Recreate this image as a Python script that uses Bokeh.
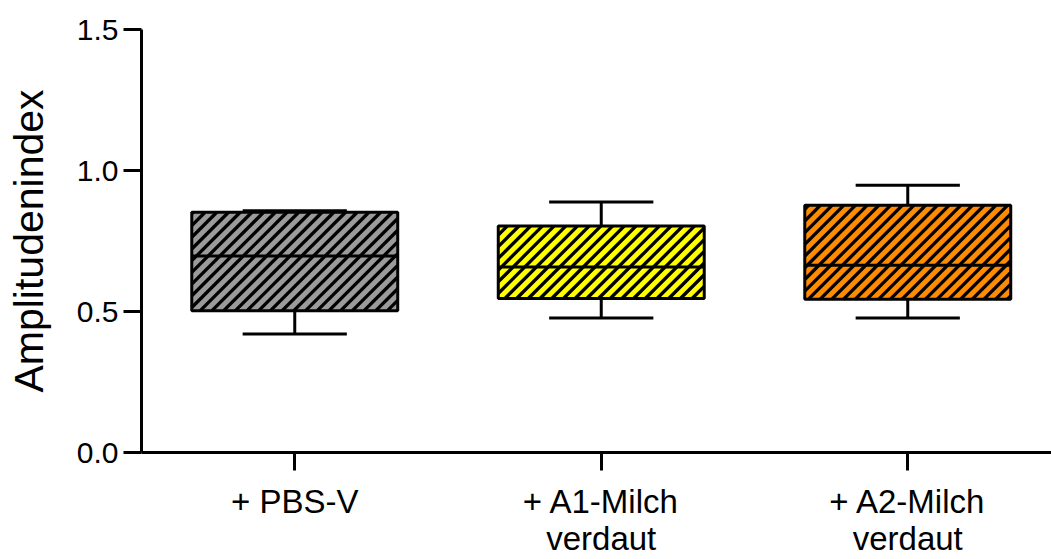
import numpy as np
from bokeh.plotting import figure
from bokeh.models import FixedTicker, Range1d
from bokeh.embed import file_html
from bokeh.resources import INLINE

# Box-plot summary per group
groups = ["+ PBS-V", "+ A1-Milch\nverdaut", "+ A2-Milch\nverdaut"]
positions = [1, 2, 3]
whisker_low = [0.42, 0.477, 0.477]
q1 = [0.503, 0.546, 0.543]
median = [0.697, 0.658, 0.664]
q3 = [0.852, 0.803, 0.877]
whisker_high = [0.857, 0.888, 0.948]
colors = ["#9b9b9b", "#ffff00", "#ff8c00"]

y_ticks = [0.0, 0.5, 1.0, 1.5]

FONT = "Liberation Sans"
BOX_HALF = 0.336
CAP_HALF = 0.17

X0, X1 = 0.5, 3.469
Y0, Y1 = 0.0, 1.5
BORDER_L, BORDER_R, BORDER_T, BORDER_B = 141, 0, 29, 107
W, H = 1051, 559
# pixels per data unit inside the plot frame
SX = (W - BORDER_L - BORDER_R) / (X1 - X0)
SY = (H - BORDER_T - BORDER_B) / (Y1 - Y0)

HATCH_STEP = 11.7  # px between 45-degree hatch lines (horizontal distance)


def hatch_segments(left, right, bottom, top):
    """Clip '/' lines (45 deg on screen) to a rectangle given in data units."""
    L, R, B, T = left * SX, right * SX, bottom * SY, top * SY
    c_start = np.ceil((B - R) / HATCH_STEP) * HATCH_STEP
    x0s, y0s, x1s, y1s = [], [], [], []
    for c in np.arange(c_start, T - L, HATCH_STEP):
        u0 = max(L, B - c)
        u1 = min(R, T - c)
        if u1 - u0 < 0.5:
            continue
        x0s.append(u0 / SX); y0s.append((u0 + c) / SY)
        x1s.append(u1 / SX); y1s.append((u1 + c) / SY)
    return x0s, y0s, x1s, y1s


p = figure(
    width=W, height=H,
    x_range=Range1d(X0, X1), y_range=Range1d(Y0, Y1),
    output_backend="svg", toolbar_location=None,
    min_border_left=BORDER_L, min_border_right=BORDER_R,
    min_border_top=BORDER_T, min_border_bottom=BORDER_B,
)
p.outline_line_color = None
p.xgrid.visible = False
p.ygrid.visible = False
p.background_fill_color = "white"

for x, lo, a, m, b, hi, c in zip(positions, whisker_low, q1, median, q3, whisker_high, colors):
    # whiskers and caps
    p.segment(x0=[x, x], y0=[b, a], x1=[x, x], y1=[hi, lo], line_color="black", line_width=3)
    p.segment(x0=[x - CAP_HALF, x - CAP_HALF], y0=[hi, lo],
              x1=[x + CAP_HALF, x + CAP_HALF], y1=[hi, lo], line_color="black", line_width=3)
    # filled box
    p.quad(left=[x - BOX_HALF], right=[x + BOX_HALF], bottom=[a], top=[b],
           fill_color=c, line_color=None)
    # diagonal hatching
    hx0, hy0, hx1, hy1 = hatch_segments(x - BOX_HALF, x + BOX_HALF, a, b)
    p.segment(x0=hx0, y0=hy0, x1=hx1, y1=hy1, line_color="black", line_width=3.3)
    # box outline
    p.quad(left=[x - BOX_HALF], right=[x + BOX_HALF], bottom=[a], top=[b],
           fill_color=None, line_color="black", line_width=3)
    # median
    p.segment(x0=[x - BOX_HALF], y0=[m], x1=[x + BOX_HALF], y1=[m],
              line_color="black", line_width=3)

# y axis
p.yaxis.ticker = FixedTicker(ticks=y_ticks)
p.yaxis.major_label_overrides = {t: f"{t:.1f}" for t in y_ticks}
p.yaxis.axis_label = "Amplitudenindex"
p.yaxis.axis_label_text_font = FONT
p.yaxis.axis_label_text_font_size = "41px"
p.yaxis.axis_label_text_font_style = "normal"
p.yaxis.axis_label_standoff = 22
p.yaxis.major_label_text_font = FONT
p.yaxis.major_label_text_font_size = "30px"
p.yaxis.major_label_standoff = 5

# x axis
p.xaxis.ticker = FixedTicker(ticks=positions)
p.xaxis.major_label_overrides = {x: g for x, g in zip(positions, groups)}
p.xaxis.major_label_text_font = FONT
p.xaxis.major_label_text_font_size = "33px"
p.xaxis.major_label_text_line_height = 1.0
p.xaxis.major_label_standoff = 12

for ax in (p.xaxis, p.yaxis):
    ax.axis_line_color = "black"
    ax.axis_line_width = 3
    ax.major_tick_line_color = "black"
    ax.major_tick_line_width = 3
    ax.major_tick_out = 18
    ax.major_tick_in = 0
    ax.minor_tick_line_color = None
    ax.major_label_text_color = "black"
    ax.axis_label_text_color = "black"

open("out.html", "w").write(file_html(p, INLINE))
